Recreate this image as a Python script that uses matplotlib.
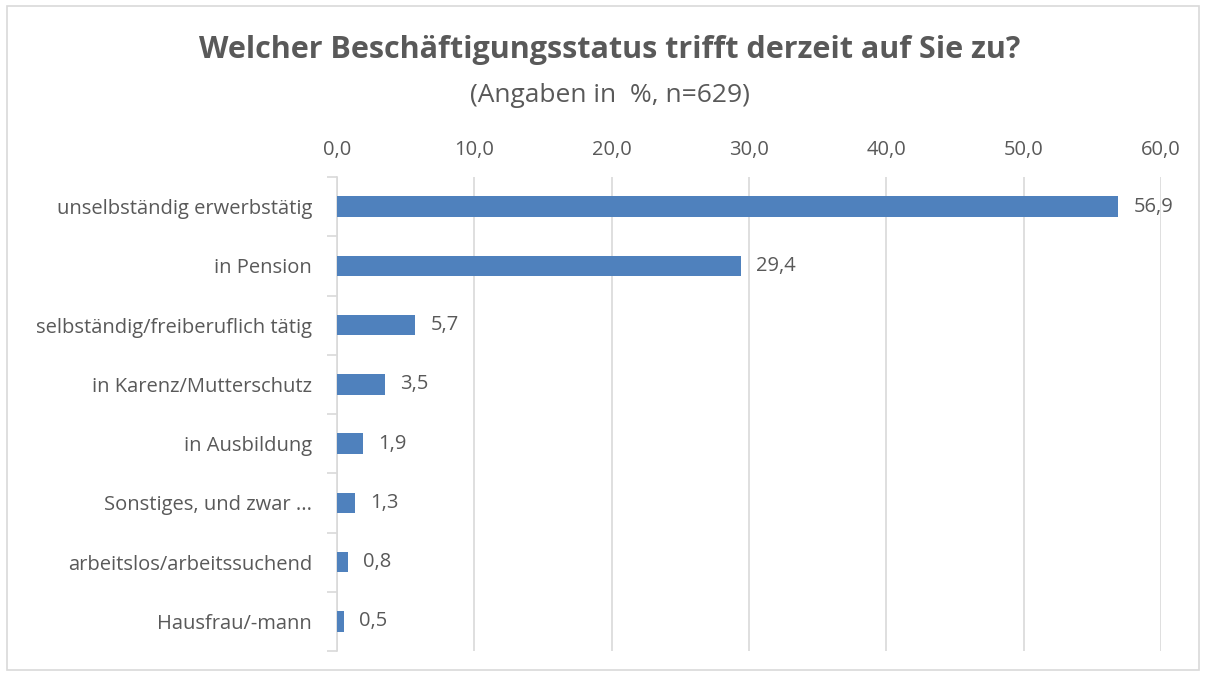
import matplotlib
matplotlib.use("Agg")
import matplotlib.pyplot as plt
from matplotlib.patches import Rectangle

categories = ["unselbständig erwerbstätig", "in Pension", "selbständig/freiberuflich tätig",
              "in Karenz/Mutterschutz", "in Ausbildung", "Sonstiges, und zwar ...",
              "arbeitslos/arbeitssuchend", "Hausfrau/-mann"]
values = [56.9, 29.4, 5.7, 3.5, 1.9, 1.3, 0.8, 0.5]
xticks = [0, 10, 20, 30, 40, 50, 60]

plt.rcParams['font.family'] = ['Open Sans', 'DejaVu Sans']
txt = '#595959'
grid = '#d9d9d9'
bar_color = '#4f81bd'

fig = plt.figure(figsize=(12.06, 6.75), dpi=100)
fig.patches.append(Rectangle((7/1206, 5/675), 1192/1206, 664/675, transform=fig.transFigure,
                             fill=False, edgecolor='#d9d9d9', linewidth=1.2))
ax = fig.add_axes([337/1206, 1-651/675, (1161-337)/1206, (651-177)/675])

n = len(categories)
ypos = list(range(n))
ax.barh(ypos, values, height=0.35, color=bar_color, zorder=3)
ax.set_ylim(n-0.5, -0.5)
ax.set_xlim(0, 60)
ax.xaxis.tick_top()
ax.set_xticks(xticks)
ax.set_xticklabels([f"{v:.1f}".replace('.', ',') for v in xticks], color=txt, fontsize=14.5)
ax.tick_params(axis='x', length=0, pad=12)
ax.set_yticks(ypos)
ax.set_yticklabels(categories, color=txt, fontsize=14.5)
ax.tick_params(axis='y', length=0, pad=18)
ax.set_yticks([i-0.5 for i in range(n+1)], minor=True)
ax.tick_params(axis='y', which='minor', length=7, color=grid, width=1.2)
ax.grid(axis='x', color=grid, linewidth=1.2, zorder=0)
for s in ['top', 'right', 'bottom']:
    ax.spines[s].set_visible(False)
ax.spines['left'].set_color(grid)
ax.spines['left'].set_linewidth(1.2)

for y, v in zip(ypos, values):
    ax.annotate(f"{v:.1f}".replace('.', ','), (v, y), xytext=(11, 0), textcoords='offset points',
                va='center', ha='left', color=txt, fontsize=14.5)

fig.text(610/1206, 1-50/675, "Welcher Beschäftigungsstatus trifft derzeit auf Sie zu?",
         ha='center', va='center', fontsize=22, fontweight='bold', color=txt)
fig.text(610/1206, 1-95/675, "(Angaben in  %, n=629)", ha='center', va='center',
         fontsize=19, color=txt)

fig.savefig("out.png", dpi=100)
